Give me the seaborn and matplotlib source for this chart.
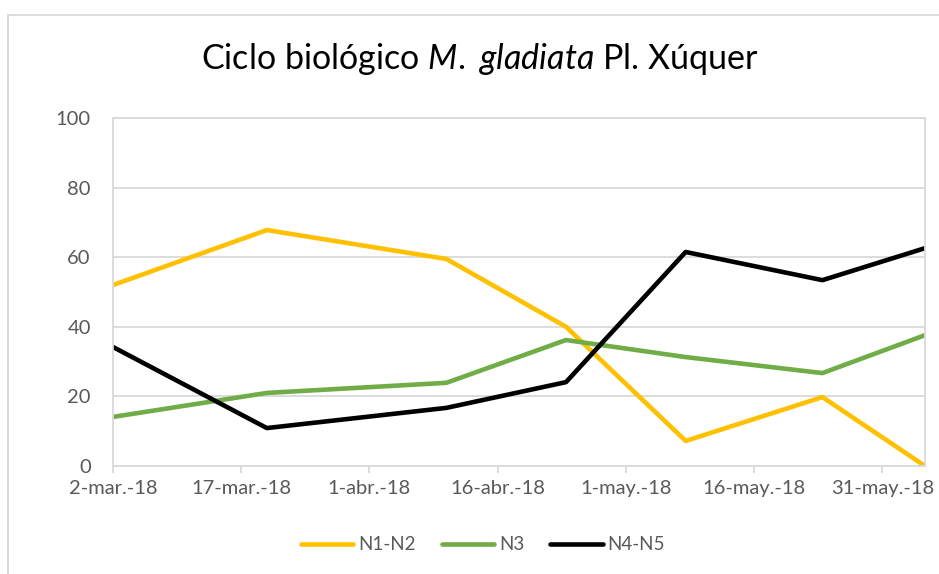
import pandas as pd
import matplotlib.pyplot as plt
import matplotlib.dates as mdates
from matplotlib.patches import Rectangle
import seaborn as sns

# sampling dates and percentages per stage group
DATES = ['2018-03-02', '2018-03-20', '2018-04-10', '2018-04-24',
         '2018-05-08', '2018-05-24', '2018-06-05']
N1_N2 = [52.0, 67.8, 59.5, 40.0, 7.2, 19.8, 0.0]
N3 = [14.1, 21.0, 23.9, 36.2, 31.3, 26.7, 37.6]
N4_N5 = [34.2, 10.9, 16.7, 24.1, 61.5, 53.4, 62.6]

SERIES = ['N1-N2', 'N3', 'N4-N5']
COLORS = {'N1-N2': '#FFC000', 'N3': '#70AD47', 'N4-N5': '#000000'}

TICK_DATES = ['2018-03-02', '2018-03-17', '2018-04-01', '2018-04-16',
              '2018-05-01', '2018-05-16', '2018-05-31']
TICK_LABELS = ['2-mar.-18', '17-mar.-18', '1-abr.-18', '16-abr.-18',
               '1-may.-18', '16-may.-18', '31-may.-18']

GRID = '#d9d9d9'
TXT = '#595959'

sns.set_theme(style='white')
plt.rcParams['font.family'] = ['Lato', 'DejaVu Sans']
plt.rcParams['mathtext.fontset'] = 'custom'
plt.rcParams['mathtext.rm'] = 'Lato'
plt.rcParams['mathtext.it'] = 'Lato:italic'

df = pd.DataFrame({'fecha': pd.to_datetime(DATES * 3),
                   'valor': N1_N2 + N3 + N4_N5,
                   'serie': [s for s in SERIES for _ in DATES]})

fig = plt.figure(figsize=(9.39, 5.74), dpi=100)
ax = fig.add_axes([113 / 939, 1 - 466 / 574, (925 - 113) / 939, (466 - 118) / 574])

sns.lineplot(data=df, x='fecha', y='valor', hue='serie', palette=COLORS,
             linewidth=3.3, ax=ax, legend=False)
for ln in ax.lines:
    ln.set_solid_capstyle('round')
    ln.set_solid_joinstyle('round')

ax.set_xlim(pd.Timestamp(DATES[0]), pd.Timestamp(DATES[-1]))
ax.set_ylim(0, 100)
ax.set_yticks(range(0, 101, 20))
ax.set_xticks(mdates.date2num(pd.to_datetime(TICK_DATES)))
ax.set_xticklabels(TICK_LABELS)
ax.yaxis.grid(True, color=GRID, linewidth=1.3)
ax.set_axisbelow(True)
ax.set_xlabel('')
ax.set_ylabel('')
for sp in ax.spines.values():
    sp.set_color(GRID)
    sp.set_linewidth(1.3)
ax.tick_params(axis='x', length=5, width=1.3, color=GRID, colors=TXT,
               labelsize=14.5, pad=5, direction='out', bottom=True)
ax.tick_params(axis='y', length=0, colors=TXT, labelsize=14.5, pad=16)

fig.text(480 / 939, 1 - 59 / 574,
         'Ciclo biológico $\\it{M.}$ $\\it{gladiata}$ Pl. Xúquer',
         ha='center', va='center', fontsize=24.5, color='#000000')

handles = [plt.Line2D([], [], color=COLORS[s], linewidth=3.3,
                      solid_capstyle='round') for s in SERIES]
fig.legend(handles, SERIES, loc='center', bbox_to_anchor=(483 / 939, 1 - 545 / 574),
           ncol=3, frameon=False, fontsize=13.5, labelcolor=TXT,
           handlelength=2.8, handletextpad=0.25, columnspacing=1.4)

fig.patches.append(Rectangle((8 / 939, -0.2), 1.5, 1 - 15 / 574 + 0.2,
                             transform=fig.transFigure, fill=False,
                             edgecolor=GRID, linewidth=1.3))

fig.savefig('out.png', dpi=100, facecolor='white')
